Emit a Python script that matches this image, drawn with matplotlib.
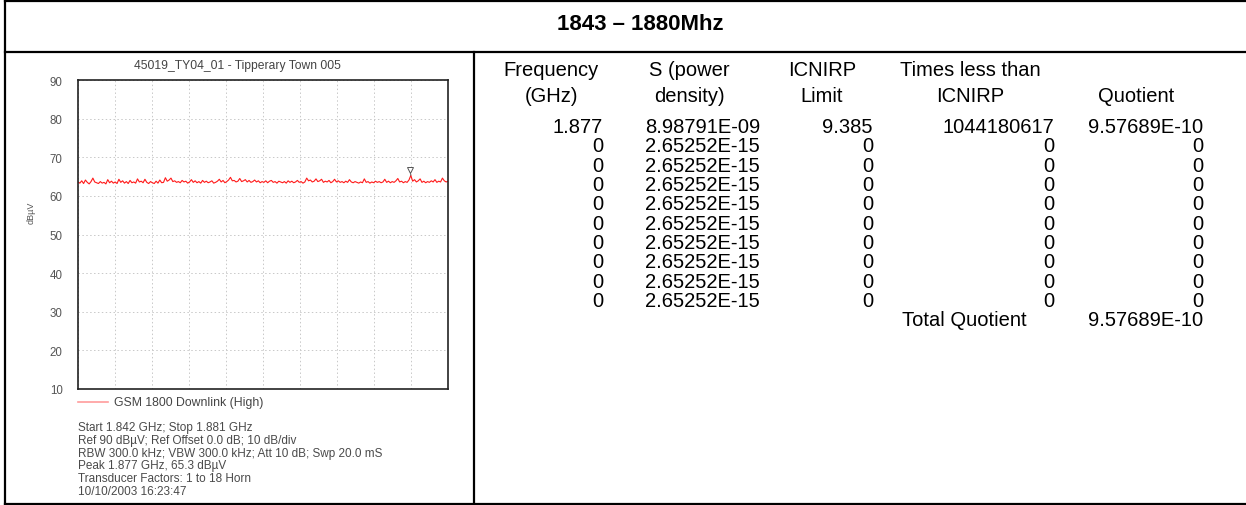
import numpy as np
import matplotlib.pyplot as plt
from matplotlib.lines import Line2D

# spectrum trace (dBuV), 1.842 -> 1.881 GHz
f_start = 1.842
f_stop = 1.881
trace_db = [
    63.6, 63.3, 63.9, 63.2, 64.1, 63.5, 63.1, 63.7, 64.6, 63.6,
    63.4, 63.2, 63.7, 63.3, 63.5, 63.1, 64.2, 63.4, 63.8, 63.3,
    63.6, 63.2, 64.3, 63.5, 63.9, 63.3, 63.7, 63.2, 64.0, 63.4,
    63.6, 63.3, 64.4, 63.6, 63.8, 63.4, 64.3, 63.5, 63.2, 63.7,
    63.4, 63.2, 63.8, 63.3, 64.1, 63.4, 63.5, 64.7, 63.8, 64.1,
    64.6, 63.7, 63.9, 63.5, 63.7, 63.4, 64.0, 63.6, 63.8, 63.3,
    63.6, 64.2, 63.5, 63.9, 63.4, 63.7, 63.3, 64.0, 63.5, 63.8,
    63.4, 63.6, 63.9, 63.3, 63.5, 63.8, 64.3, 63.6, 64.0, 63.4,
    63.7, 64.1, 64.8, 63.9, 64.0, 63.6, 63.8, 64.5, 63.7, 63.9,
    64.2, 63.6, 64.0, 63.5, 63.7, 64.1, 63.6, 63.9, 63.4, 63.7,
    63.5, 63.9, 63.4, 63.8, 64.0, 63.5, 63.7, 63.3, 63.8, 63.6,
    63.4, 63.7, 63.3, 63.9, 63.5, 63.8, 63.4, 63.6, 64.0, 63.5,
    63.7, 63.3, 63.6, 64.6, 63.9, 64.1, 63.6, 63.8, 64.4, 63.7,
    63.9, 64.3, 63.5, 63.8, 63.6, 64.0, 63.4, 63.7, 64.3, 63.6,
    63.9, 63.5, 63.7, 63.4, 63.8, 63.5, 64.2, 63.6, 63.4, 63.7,
    63.5, 63.3, 63.6, 63.4, 64.4, 63.5, 63.7, 63.3, 63.6, 63.4,
    63.8, 63.5, 63.7, 63.4, 63.6, 64.3, 63.5, 63.8, 63.4, 63.7,
    63.5, 63.9, 64.5, 63.6, 63.8, 63.4, 63.7, 63.5, 64.1, 65.3,
    63.8, 64.2, 63.6, 63.9, 64.4, 63.5, 63.8, 63.4, 63.7, 63.5,
    63.9, 63.6, 64.2, 63.5, 63.8, 63.6, 64.6, 63.9, 63.6, 63.8]
peak_f = 1.877
peak_db = 65.3

chart_title = "45019_TY04_01 - Tipperary Town 005"
legend_name = "GSM 1800 Downlink (High)"
info_lines = [
    "Start 1.842 GHz; Stop 1.881 GHz",
    "Ref 90 dB\u00b5V; Ref Offset 0.0 dB; 10 dB/div",
    "RBW 300.0 kHz; VBW 300.0 kHz; Att 10 dB; Swp 20.0 mS",
    "Peak 1.877 GHz, 65.3 dB\u00b5V",
    "Transducer Factors: 1 to 18 Horn",
    "10/10/2003 16:23:47",
]

# table
band_title = "1843 \u2013 1880Mhz"
headers = [["Frequency", "(GHz)"], ["S (power", "density)"], ["ICNIRP", "Limit"],
           ["Times less than", "ICNIRP"], ["", "Quotient"]]
col_freq = ["1.877"] + ["0"] * 9
col_s = ["8.98791E-09"] + ["2.65252E-15"] * 9
col_limit = ["9.385"] + ["0"] * 9
col_times = ["1044180617"] + ["0"] * 9
col_quot = ["9.57689E-10"] + ["0"] * 9
total_label = "Total Quotient"
total_value = "9.57689E-10"

W, H = 1246, 506
fig = plt.figure(figsize=(W / 100, H / 100), dpi=100)
plt.rcParams['font.family'] = ['Liberation Sans', 'DejaVu Sans']


def fx(px):
    return px / W


def fy(py):
    return 1 - py / H


# frame lines of the sheet
lw = 1.6
for (x0, y0, x1, y1) in [(5, 2, W, 2), (5, 53, W, 53), (5, 504.5, W, 504.5),
                         (5, 2, 5, 504.5), (474, 53, 474, 504.5)]:
    fig.add_artist(Line2D([fx(x0), fx(x1)], [fy(y0), fy(y1)], color="black", lw=lw))

fig.text(fx(640), fy(25), band_title, ha="center", va="center",
         fontsize=16, fontweight="bold")

# spectrum plot
ax = fig.add_axes([fx(78), fy(390), fx(448) - fx(78), fy(81) - fy(390)])
freqs = np.linspace(f_start, f_stop, len(trace_db))
ax.plot(freqs, trace_db, color="#ff1a1a", lw=0.8)
ax.plot([peak_f, peak_f], [peak_db, peak_db + 0.9], color="#666666", lw=0.6)
ax.plot(peak_f, peak_db + 1.4, marker="v", ms=5, mfc="white", mec="#555555", mew=0.7)
ax.set_xlim(f_start, f_stop)
ax.set_ylim(10, 90)
ax.set_yticks(np.arange(10, 91, 10))
ax.set_xticks(np.linspace(f_start, f_stop, 11))
ax.set_xticklabels([])
ax.tick_params(axis="both", length=0, labelsize=8.3, labelcolor="#555555", pad=11)
ax.grid(True, color="#c8c8c8", ls=(0, (1.5, 2.5)), lw=0.7)
for s in ax.spines.values():
    s.set_linewidth(1.2)
    s.set_color("#222222")

fig.text(fx(237), fy(66), chart_title, ha="center", va="center",
         fontsize=8.7, color="#444444")
fig.text(fx(31), fy(213), "dB\u00b5V", ha="center", va="center", rotation=90,
         fontsize=6.5, color="#555555")
fig.add_artist(Line2D([fx(78), fx(108)], [fy(403), fy(403)], color="#ff9c9c", lw=1.2))
fig.text(fx(114), fy(403), legend_name, ha="left", va="center", fontsize=8.8, color="#444444")
for i, line in enumerate(info_lines):
    fig.text(fx(78), fy(428 + 12.8 * i), line, ha="left", va="center",
             fontsize=8.5, color="#4a4a4a")

# table on the right
head_x = [551, 689, 822, 970, 1136]
for cx, (h1, h2) in zip(head_x, headers):
    fig.text(fx(cx), fy(70), h1, ha="center", va="center", fontsize=14.5)
    fig.text(fx(cx), fy(97), h2, ha="center", va="center", fontsize=14.5)

right_x = [603, 760, 873, 1054, 1203]
cols = [col_freq, col_s, col_limit, col_times, col_quot]
for rx, col in zip(right_x, cols):
    for i, val in enumerate(col):
        fig.text(fx(rx), fy(127.3 + 19.35 * i), val, ha="right", va="center", fontsize=14.5)

fig.text(fx(964), fy(127.3 + 19.35 * 10), total_label, ha="center", va="center", fontsize=14.5)
fig.text(fx(1203), fy(127.3 + 19.35 * 10), total_value, ha="right", va="center", fontsize=14.5)

fig.savefig("out.png", dpi=100)
